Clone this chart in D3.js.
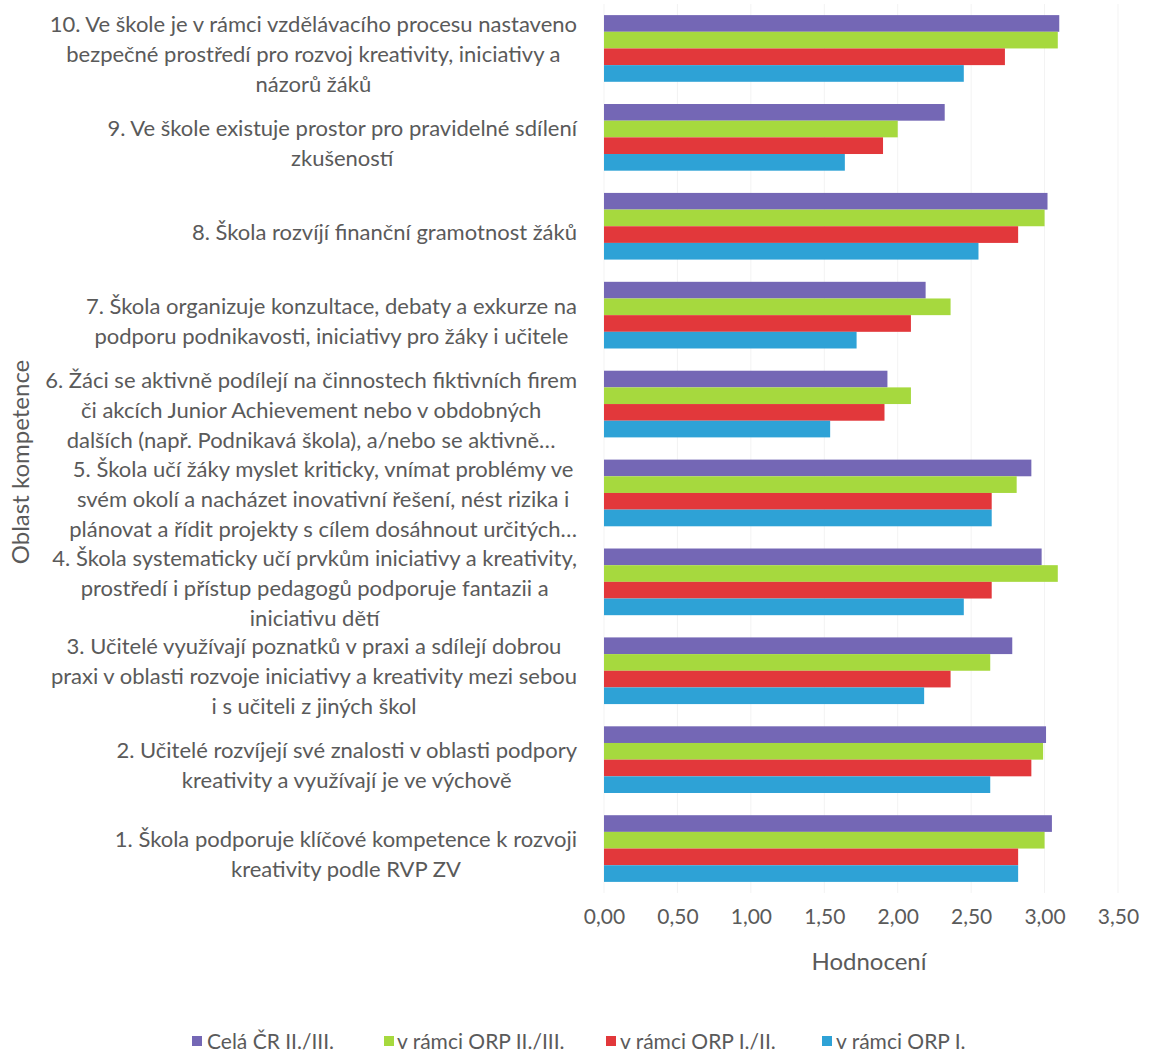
<!DOCTYPE html>
<html>
<head>
<meta charset="utf-8">
<script src="https://cdn.jsdelivr.net/npm/d3@7"></script>
<style>
  html, body { margin: 0; padding: 0; background: #ffffff; }
  svg { display: block; font-family: "Lato", "Open Sans", sans-serif; }
</style>
</head>
<body>
<svg id="chart" width="1149" height="1053"></svg>
<script>
// ---- data ----
const categories = [
  ["1. Škola podporuje klíčové kompetence k rozvoji", "kreativity podle RVP ZV"],
  ["2. Učitelé rozvíjejí své znalosti v oblasti podpory", "kreativity a využívají je ve výchově"],
  ["3. Učitelé využívají poznatků v praxi a sdílejí dobrou", "praxi v oblasti rozvoje iniciativy a kreativity mezi sebou", "i s učiteli z jiných škol"],
  ["4. Škola systematicky učí prvkům iniciativy a kreativity,", "prostředí i přístup pedagogů podporuje fantazii a", "iniciativu dětí"],
  ["5. Škola učí žáky myslet kriticky, vnímat problémy ve", "svém okolí a nacházet inovativní řešení, nést rizika i", "plánovat a řídit projekty s cílem dosáhnout určitých…"],
  ["6. Žáci se aktivně podílejí na činnostech fiktivních firem", "či akcích Junior Achievement nebo v obdobných", "dalších (např. Podnikavá škola), a/nebo se aktivně…"],
  ["7. Škola organizuje konzultace, debaty a exkurze na", "podporu podnikavosti, iniciativy pro žáky i učitele"],
  ["8. Škola rozvíjí finanční gramotnost žáků"],
  ["9. Ve škole existuje prostor pro pravidelné sdílení", "zkušeností"],
  ["10. Ve škole je v rámci vzdělávacího procesu nastaveno", "bezpečné prostředí pro rozvoj kreativity, iniciativy a", "názorů žáků"]
];
const seriesNames = ["Celá ČR II./III.", "v rámci ORP II./III.", "v rámci ORP I./II.", "v rámci ORP I."];
const seriesColors = ["#7467b5", "#a6d93e", "#e2383b", "#2ea2d6"];
// values per category (1..10), one array per series
const celaCR   = [3.05, 3.01, 2.78, 2.98, 2.91, 1.93, 2.19, 3.02, 2.32, 3.10];
const orp23    = [3.00, 2.99, 2.63, 3.09, 2.81, 2.09, 2.36, 3.00, 2.00, 3.09];
const orp12    = [2.82, 2.91, 2.36, 2.64, 2.64, 1.91, 2.09, 2.82, 1.90, 2.73];
const orp1     = [2.82, 2.63, 2.18, 2.45, 2.64, 1.54, 1.72, 2.55, 1.64, 2.45];
const seriesValues = [celaCR, orp23, orp12, orp1];
const xTicks = [0, 0.5, 1, 1.5, 2, 2.5, 3, 3.5];
const xTitle = "Hodnocení";
const yTitle = "Oblast kompetence";

// ---- layout ----
const svg = d3.select("#chart");
const textColor = "#5a5a5a";
const plotLeft = 604, plotRight = 1118, plotTop = 4, plotBottom = 893;

const idx = d3.range(categories.length);
const y = d3.scaleBand()
  .domain(idx.slice().reverse())
  .range([plotTop, plotBottom])
  .paddingInner(0.25)
  .paddingOuter(0.125);
const ySub = d3.scaleBand()
  .domain(d3.range(seriesNames.length))
  .range([0, y.bandwidth()]);
const x = d3.scaleLinear().domain([0, 3.5]).range([plotLeft, plotRight]);

// faint gridlines
svg.append("g")
  .selectAll("line")
  .data(xTicks)
  .join("line")
  .attr("x1", d => x(d)).attr("x2", d => x(d))
  .attr("y1", plotTop).attr("y2", plotBottom)
  .attr("stroke", "#f3f3f3").attr("stroke-width", 1);

// bars
const groups = svg.append("g").selectAll("g")
  .data(idx)
  .join("g")
  .attr("transform", i => `translate(0,${y(i)})`);
groups.selectAll("rect")
  .data(i => seriesValues.map((arr, s) => ({ s, v: arr[i] })))
  .join("rect")
  .attr("x", x(0))
  .attr("y", d => ySub(d.s))
  .attr("width", d => x(d.v) - x(0))
  .attr("height", ySub.bandwidth())
  .attr("fill", d => seriesColors[d.s]);

// x axis (labels only)
const xAxis = d3.axisBottom(x)
  .tickValues(xTicks)
  .tickFormat(d => d3.format(".2f")(d).replace(".", ","))
  .tickSize(0)
  .tickPadding(0);
const gx = svg.append("g").attr("transform", `translate(0,${plotBottom + 16})`).call(xAxis);
gx.select(".domain").remove();
gx.selectAll("text")
  .attr("fill", textColor)
  .style("font-size", "21px")
  .style("font-family", "Lato, sans-serif");

svg.append("text")
  .attr("x", (plotLeft + plotRight) / 2 + 8)
  .attr("y", 970)
  .attr("text-anchor", "middle")
  .attr("fill", textColor)
  .style("font-size", "24px")
  .text(xTitle);

svg.append("text")
  .attr("transform", `translate(29,462) rotate(-90)`)
  .attr("text-anchor", "middle")
  .attr("fill", textColor)
  .style("font-size", "24px")
  .text(yTitle);

// category labels: block right-aligned, lines centered within block
const labelRight = 577;
const lineH = 30;
const labelSize = 22;
const labelG = svg.append("g").style("font-size", labelSize + "px").attr("fill", textColor);
idx.forEach(i => {
  const lines = categories[i];
  const g = labelG.append("g");
  const texts = lines.map((ln, k) => g.append("text")
    .attr("y", y(i) + y.bandwidth() / 2 + 6 + (k - (lines.length - 1) / 2) * lineH)
    .attr("dy", "0.35em")
    .attr("text-anchor", "middle")
    .text(ln));
  const w = d3.max(texts, t => t.node().getComputedTextLength());
  texts.forEach(t => t.attr("x", labelRight - w / 2));
});

// legend
const legendItems = [
  { sx: 192, tx: 207 },
  { sx: 384, tx: 397 },
  { sx: 606, tx: 620 },
  { sx: 822, tx: 836 }
];
const lg = svg.append("g");
seriesNames.forEach((name, s) => {
  lg.append("rect")
    .attr("x", legendItems[s].sx).attr("y", 1036)
    .attr("width", 10).attr("height", 10)
    .attr("fill", seriesColors[s]);
  lg.append("text")
    .attr("x", legendItems[s].tx).attr("y", 1042)
    .attr("dy", "0.35em")
    .attr("fill", textColor)
    .style("font-size", "21px")
    .text(name);
});
</script>
</body>
</html>
